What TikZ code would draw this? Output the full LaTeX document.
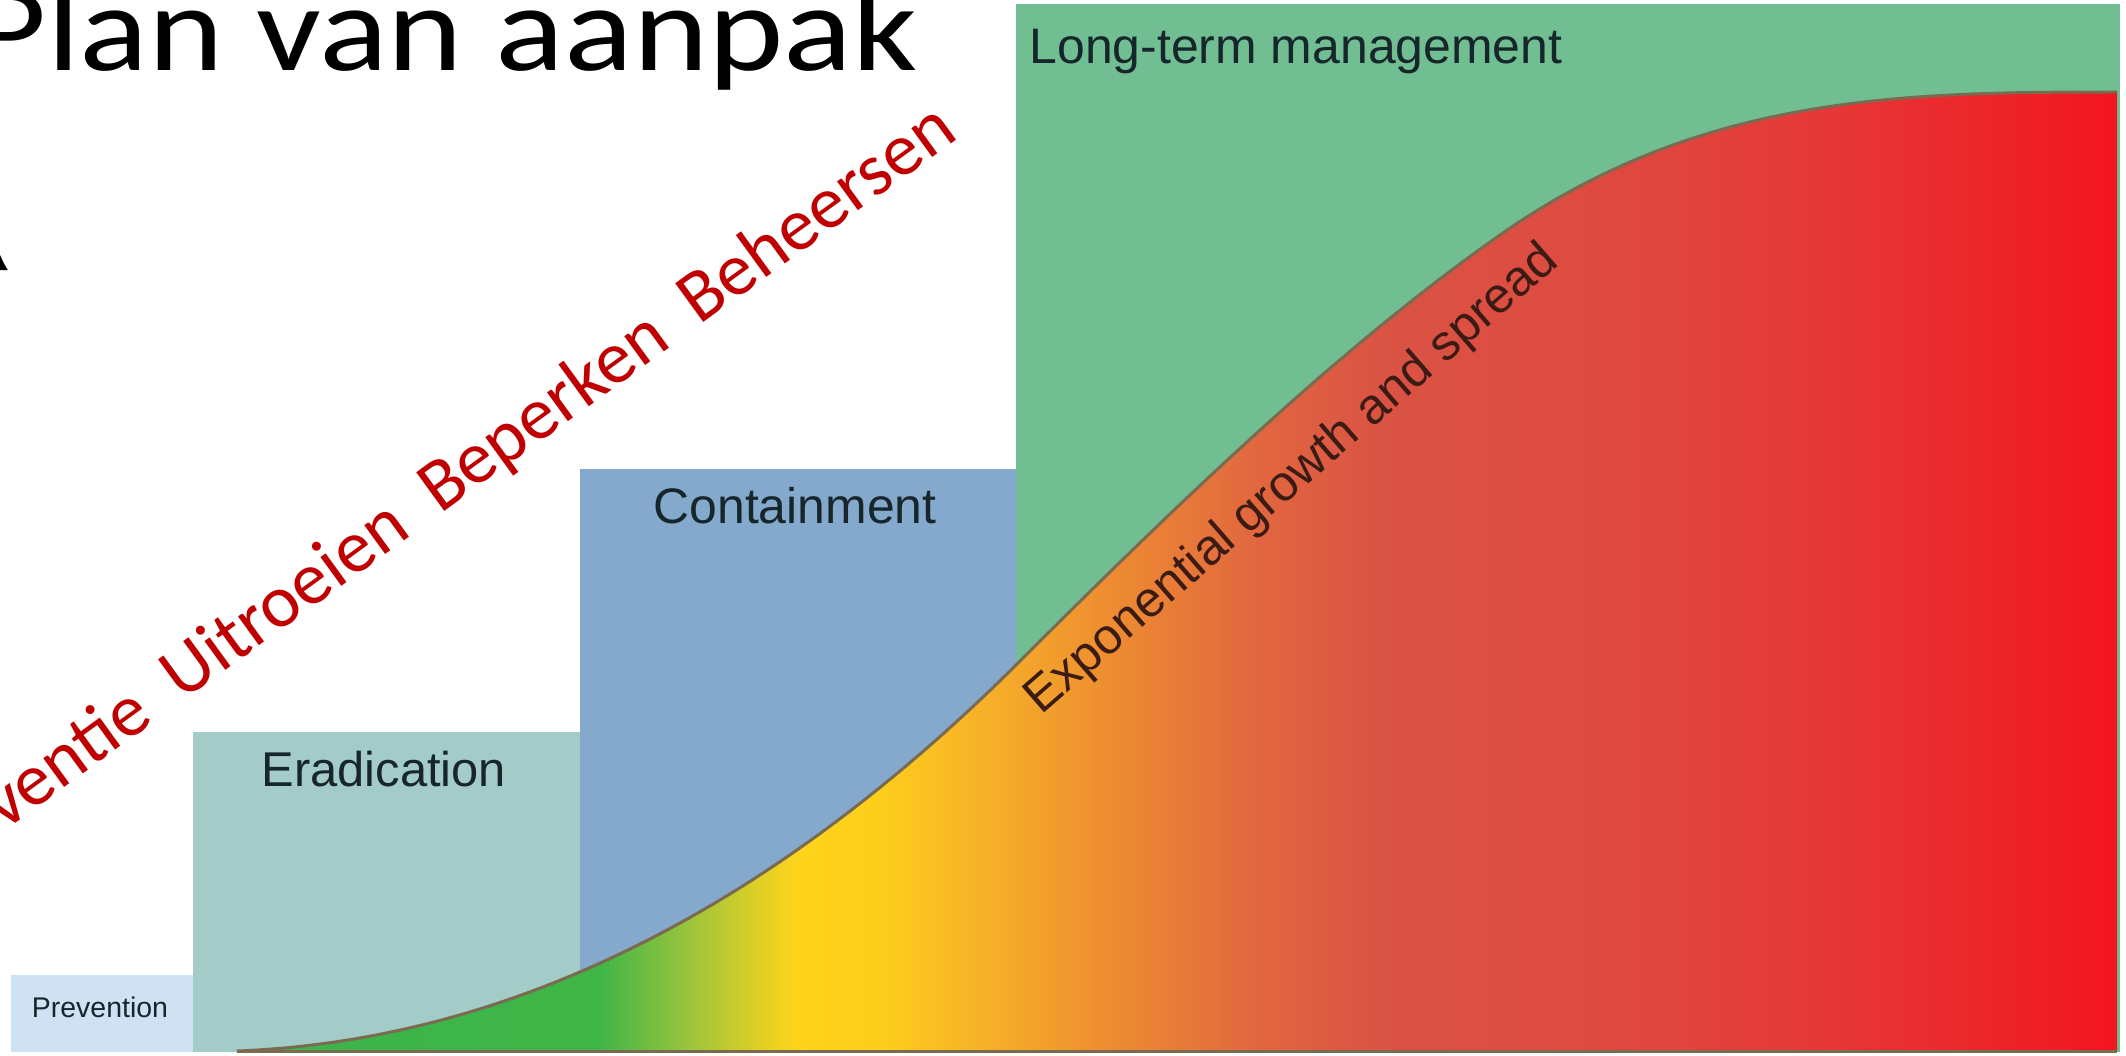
\documentclass[tikz,border=0pt]{standalone}
\usepackage{fontspec}
\setmainfont{Liberation Sans}
\newfontfamily\slidefont{Carlito}
\usetikzlibrary{arrows.meta}

\definecolor{prevblue}{HTML}{CFE1F2}
\definecolor{eradteal}{HTML}{A3CBC8}
\definecolor{contblue}{HTML}{84A9CC}
\definecolor{longgreen}{HTML}{71BE93}
\definecolor{labelink}{HTML}{16262A}
\definecolor{expoink}{HTML}{3A1C14}
\definecolor{stagered}{HTML}{C00000}
\definecolor{curveedge}{HTML}{7A6A50}
\definecolor{gA}{HTML}{3BB44A}
\definecolor{gB}{HTML}{40B548}
\definecolor{gC}{HTML}{9CC53B}
\definecolor{gD}{HTML}{E0D024}
\definecolor{gE}{HTML}{FFD41B}
\definecolor{gF}{HTML}{FDCE1C}
\definecolor{gG}{HTML}{F6AF29}
\definecolor{gH}{HTML}{EE8F30}
\definecolor{gI}{HTML}{E2683F}
\definecolor{gJ}{HTML}{DA5344}
\definecolor{gK}{HTML}{DE4A40}
\definecolor{gL}{HTML}{E53A39}
\definecolor{gM}{HTML}{EC2429}
\definecolor{gN}{HTML}{F31522}

\pgfdeclarehorizontalshading{spreadshade}{100bp}{color(0bp)=(gA); color(25bp)=(gA);
color(34.65bp)=(gB); color(37.05bp)=(gC); color(38.91bp)=(gD); color(39.97bp)=(gE);
color(42.1bp)=(gF); color(45.03bp)=(gG); color(47.95bp)=(gH); color(51.94bp)=(gI);
color(55.4bp)=(gJ); color(61.25bp)=(gK); color(66.57bp)=(gL); color(71.89bp)=(gM);
color(75bp)=(gN); color(100bp)=(gN)}

\def\growthcurve{(2.37,0.04) .. controls (5.20,0.15) and (7.80,1.55) .. (10.17,3.91)
.. controls (11.77,5.51) and (13.40,7.08) .. (15.00,8.20)
.. controls (17.00,9.60) and (19.00,9.63) .. (21.17,9.63)}

\begin{document}
\begin{tikzpicture}[
phase/.style={inner sep=0pt,text=labelink},
edge/.style={draw=curveedge,line width=0.85pt}]
\useasboundingbox (0,0) rectangle (21.26,10.55);
\fill[white] (0,0) rectangle (21.26,10.55);
\begin{scope}
\clip (0,0) rectangle (21.26,10.55);
% phase blocks
\fill[prevblue] (0.11,0.03) rectangle (1.93,0.80);
\fill[eradteal] (1.93,0.03) rectangle (5.80,3.23);
\fill[contblue] (5.80,0.03) rectangle (10.16,5.86);
\fill[longgreen] (10.16,0.03) rectangle (21.20,10.51);
% growth curve
\coordinate (curvestart) at (2.37,0.04);
\coordinate (curveend) at (21.17,0.04);
\shade[shading=spreadshade] \growthcurve -- (curveend) -- (curvestart) -- cycle;
\draw[edge] \growthcurve;
\draw[edge] (curvestart) -- (curveend);
% axis
\coordinate (axisfoot) at (-0.05,0.03);
\coordinate (axistop) at (-0.05,8.15);
\draw[line width=1pt,-{Latex[length=3mm,width=2.6mm]}] (axisfoot) -- (axistop);
% labels
\node[phase,anchor=base,font=\fontsize{8.1pt}{10pt}\selectfont] (prevlabel) at (1.00,0.38) {Prevention};
\node[phase,anchor=base,font=\fontsize{13.9pt}{16pt}\selectfont] (eradlabel) at (3.84,2.69) {Eradication};
\node[phase,anchor=base,font=\fontsize{14.2pt}{17pt}\selectfont] (contlabel) at (7.95,5.32) {Containment};
\node[phase,anchor=base west,font=\fontsize{14.2pt}{17pt}\selectfont] (longlabel) at (10.29,9.92) {Long-term management};
\node[phase,anchor=base west,text=expoink,rotate=41,font=\fontsize{14.2pt}{17pt}\selectfont] (expolabel) at (10.41,3.39) {Exponential growth and spread};
% slide texts
\node[inner sep=0pt,anchor=base west,xscale=1.17,font=\slidefont\fontsize{34.9pt}{40pt}\selectfont] (title) at (-0.28,9.85) {Plan van aanpak};
\node[inner sep=0pt,anchor=base east,rotate=36,text=stagered,font=\slidefont\fontsize{21.2pt}{26pt}\selectfont] (stages) at (9.60,9.18) {Preventie~~Uitroeien~~Beperken~~Beheersen};
\end{scope}
\end{tikzpicture}
\end{document}
